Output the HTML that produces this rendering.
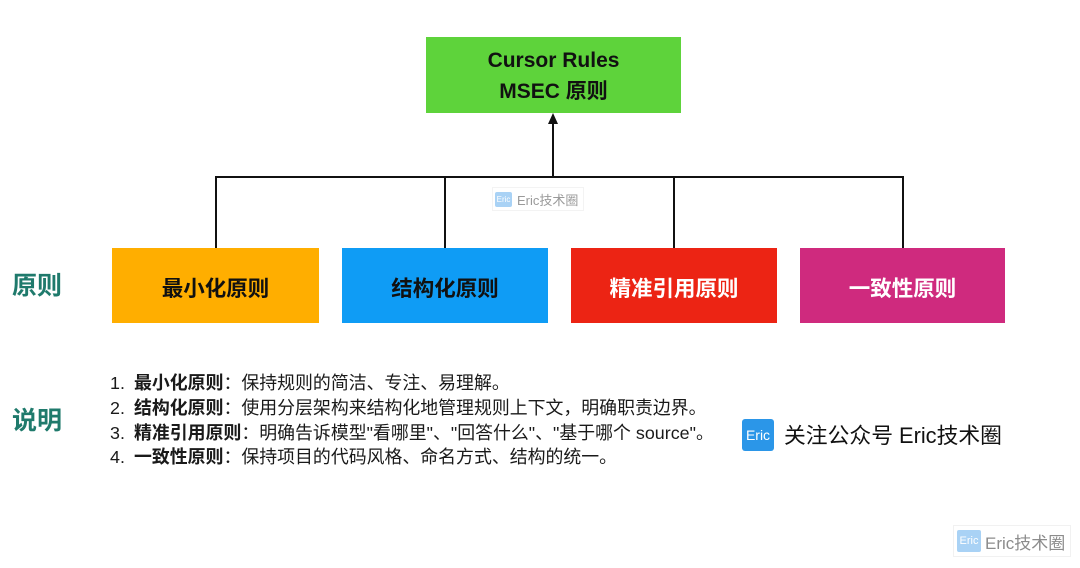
<!DOCTYPE html>
<html>
<head>
<meta charset="utf-8">
<style>
  html, body { margin:0; padding:0; }
  body { width:1080px; height:568px; background:#fff; position:relative; overflow:hidden;
    font-family:"Liberation Sans","Noto Sans CJK SC",sans-serif; color:#111; }
  .abs { position:absolute; }
  .box { position:absolute; display:flex; align-items:center; justify-content:center;
    font-weight:bold; font-size:21.5px; box-sizing:border-box; padding-top:3px; }
  .lbl { position:absolute; color:#1f7a6c; font-weight:bold; font-size:25px; line-height:30px;
    font-family:"Liberation Sans","Noto Sans CJK SC",sans-serif; }
  .list { position:absolute; left:110px; top:371px; font-size:17.9px; line-height:24.8px; color:#1a1a1a; white-space:nowrap; }
  .list .n { display:inline-block; width:24px; }
  .list b { font-weight:bold; }
  .wm { position:absolute; display:flex; align-items:center; color:#8c8c8c; }
  .wm .ic { background:#a9d2f5; color:#fff; display:flex; align-items:center; justify-content:center; border-radius:2px; }
</style>
</head>
<body>
  <!-- top box -->
  <div class="box" style="left:426px;top:37px;width:255px;height:76px;background:#5ed33b;flex-direction:column;line-height:31px;color:#111;font-size:21px;padding-top:2px;">
    <div>Cursor Rules</div>
    <div>MSEC 原则</div>
  </div>

  <!-- connectors -->
  <svg class="abs" style="left:0;top:0;" width="1080" height="260">
    <polygon points="553,113 548,124 558,124" fill="#111"/>
    <line x1="553" y1="122" x2="553" y2="178" stroke="#111" stroke-width="2"/>
    <line x1="215" y1="177" x2="904" y2="177" stroke="#111" stroke-width="2"/>
    <line x1="216" y1="177" x2="216" y2="248" stroke="#111" stroke-width="2"/>
    <line x1="445" y1="177" x2="445" y2="248" stroke="#111" stroke-width="2"/>
    <line x1="674" y1="177" x2="674" y2="248" stroke="#111" stroke-width="2"/>
    <line x1="903" y1="177" x2="903" y2="248" stroke="#111" stroke-width="2"/>
  </svg>

  <!-- middle watermark -->
  <div class="wm" style="left:492px;top:187px;width:90px;height:22px;border:1px solid #f3f3f3;font-size:13px;">
    <div class="ic" style="width:17px;height:15px;font-size:8px;margin-left:2px;">Eric</div>
    <div style="margin-left:5px;color:#9a9a9a;">Eric技术圈</div>
  </div>

  <!-- principle boxes -->
  <div class="box" style="left:112px;top:248px;width:207px;height:75px;background:#ffae00;color:#111;">最小化原则</div>
  <div class="box" style="left:342px;top:248px;width:206px;height:75px;background:#0f9cf5;color:#111;">结构化原则</div>
  <div class="box" style="left:571px;top:248px;width:206px;height:75px;background:#ec2414;color:#fff;">精准引用原则</div>
  <div class="box" style="left:800px;top:248px;width:205px;height:75px;background:#cf2a7e;color:#fff;">一致性原则</div>

  <!-- left labels -->
  <div class="lbl" style="left:12px;top:271px;">原则</div>
  <div class="lbl" style="left:12px;top:406px;">说明</div>

  <!-- list -->
  <div class="list">
    <div><span class="n">1.</span><b>最小化原则</b>：保持规则的简洁、专注、易理解。</div>
    <div><span class="n">2.</span><b>结构化原则</b>：使用分层架构来结构化地管理规则上下文，明确职责边界。</div>
    <div><span class="n">3.</span><b>精准引用原则</b>：明确告诉模型"看哪里"、"回答什么"、"基于哪个 source"。</div>
    <div><span class="n">4.</span><b>一致性原则</b>：保持项目的代码风格、命名方式、结构的统一。</div>
  </div>

  <!-- follow -->
  <div class="abs" style="left:742px;top:419px;width:32px;height:32px;background:#2b96e8;border-radius:3px;color:#fff;font-size:14px;display:flex;align-items:center;justify-content:center;">Eric</div>
  <div class="abs" style="left:784px;top:422px;font-size:21.8px;line-height:28px;color:#111;white-space:nowrap;">关注公众号 Eric技术圈</div>

  <!-- bottom watermark -->
  <div class="wm" style="left:953px;top:525px;width:116px;height:30px;border:1px solid #f1f1f1;font-size:17px;">
    <div class="ic" style="width:24px;height:22px;font-size:11px;margin-left:3px;">Eric</div>
    <div style="margin-left:4px;">Eric技术圈</div>
  </div>
</body>
</html>
